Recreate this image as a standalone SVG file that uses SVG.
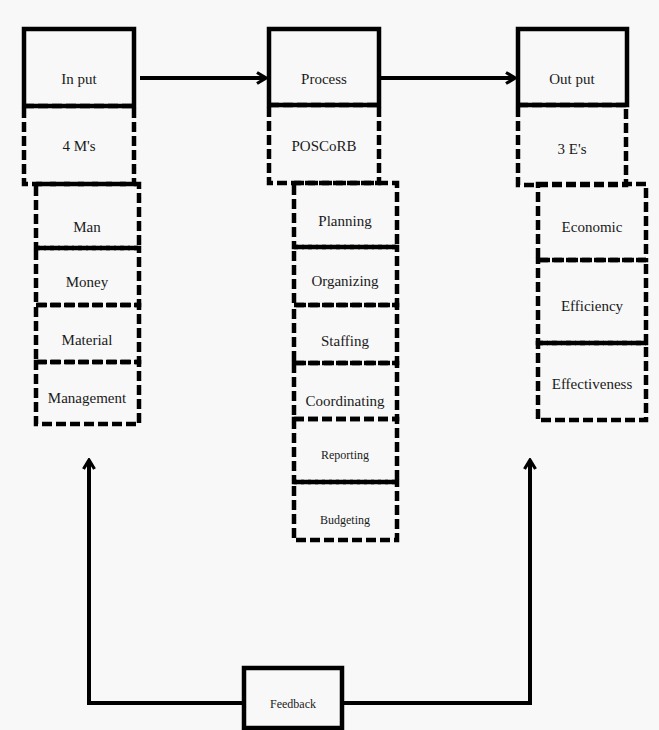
<svg xmlns="http://www.w3.org/2000/svg" width="659" height="730" viewBox="0 0 659 730">
<style>
.solid{fill:none;stroke:#000;stroke-width:4.5}
.dash{fill:none;stroke:#000;stroke-width:4.5;stroke-dasharray:10 4}
.t{font-family:"Liberation Serif","Times New Roman",serif;font-size:15px;fill:#1a1a1a;text-anchor:middle}
.s{font-size:12px}
.c{fill:none;stroke:#000;stroke-width:4}
</style>
<defs>
<marker id="ah" viewBox="0 0 14 14" refX="12" refY="7" markerWidth="14" markerHeight="14" markerUnits="userSpaceOnUse" orient="auto">
<polyline points="3,1.5 12,7 3,12.5" fill="none" stroke="#000" stroke-width="3.2"/>
</marker>
</defs>
<rect width="659" height="730" fill="#f8f8f8"/>
<g id="connectors">
<line class="c" x1="140" y1="78" x2="266" y2="78" marker-end="url(#ah)"/>
<line class="c" x1="381" y1="78" x2="515" y2="78" marker-end="url(#ah)"/>
<polyline class="c" points="243,703 89,703 89,460" marker-end="url(#ah)"/>
<polyline class="c" points="343,703 530,703 530,460" marker-end="url(#ah)"/>
</g>
<g id="input">
<rect class="solid" x="24" y="29" width="110" height="77" fill="#f8f8f8"/>
<text class="t" x="79" y="84">In put</text>
</g>
<g id="m4">
<rect class="dash" x="24" y="106" width="110" height="78"/>
<text class="t" x="79" y="151">4 M's</text>
</g>
<g id="man"><rect class="dash" x="36" y="184" width="103" height="64"/><text class="t" x="87" y="232">Man</text></g>
<g id="money"><rect class="dash" x="36" y="248" width="103" height="57"/><text class="t" x="87" y="287">Money</text></g>
<g id="material"><rect class="dash" x="36" y="305" width="103" height="57"/><text class="t" x="87" y="345">Material</text></g>
<g id="management"><rect class="dash" x="36" y="362" width="103" height="62"/><text class="t" x="87" y="403">Management</text></g>
<g id="process">
<rect class="solid" x="269" y="29" width="110" height="76" fill="#f8f8f8"/>
<text class="t" x="324" y="84">Process</text>
</g>
<g id="poscorb">
<rect class="dash" x="269" y="105" width="110" height="78"/>
<text class="t" x="324" y="151">POSCoRB</text>
</g>
<g id="planning"><rect class="dash" x="294" y="183" width="103" height="64"/><text class="t" x="345" y="226">Planning</text></g>
<g id="organizing"><rect class="dash" x="294" y="247" width="103" height="58"/><text class="t" x="345" y="286">Organizing</text></g>
<g id="staffing"><rect class="dash" x="294" y="305" width="103" height="58"/><text class="t" x="345" y="346">Staffing</text></g>
<g id="coordinating"><rect class="dash" x="294" y="363" width="103" height="56"/><text class="t" x="345" y="406">Coordinating</text></g>
<g id="reporting"><rect class="dash" x="294" y="419" width="103" height="63"/><text class="t s" x="345" y="459">Reporting</text></g>
<g id="budgeting"><rect class="dash" x="294" y="482" width="103" height="58"/><text class="t s" x="345" y="524">Budgeting</text></g>
<g id="output">
<rect class="solid" x="518" y="29" width="109" height="76" fill="#f8f8f8"/>
<text class="t" x="572" y="84">Out put</text>
</g>
<g id="e3">
<rect class="dash" x="518" y="105" width="108" height="80"/>
<text class="t" x="572" y="154">3 E's</text>
</g>
<g id="economic"><rect class="dash" x="538" y="184" width="108" height="76"/><text class="t" x="592" y="232">Economic</text></g>
<g id="efficiency"><rect class="dash" x="538" y="260" width="108" height="83"/><text class="t" x="592" y="311">Efficiency</text></g>
<g id="effectiveness"><rect class="dash" x="538" y="343" width="108" height="77"/><text class="t" x="592" y="389">Effectiveness</text></g>
<g id="feedback">
<rect class="solid" x="244" y="668" width="98" height="60" fill="#f8f8f8"/>
<text class="t s" x="293" y="708">Feedback</text>
</g>
</svg>
